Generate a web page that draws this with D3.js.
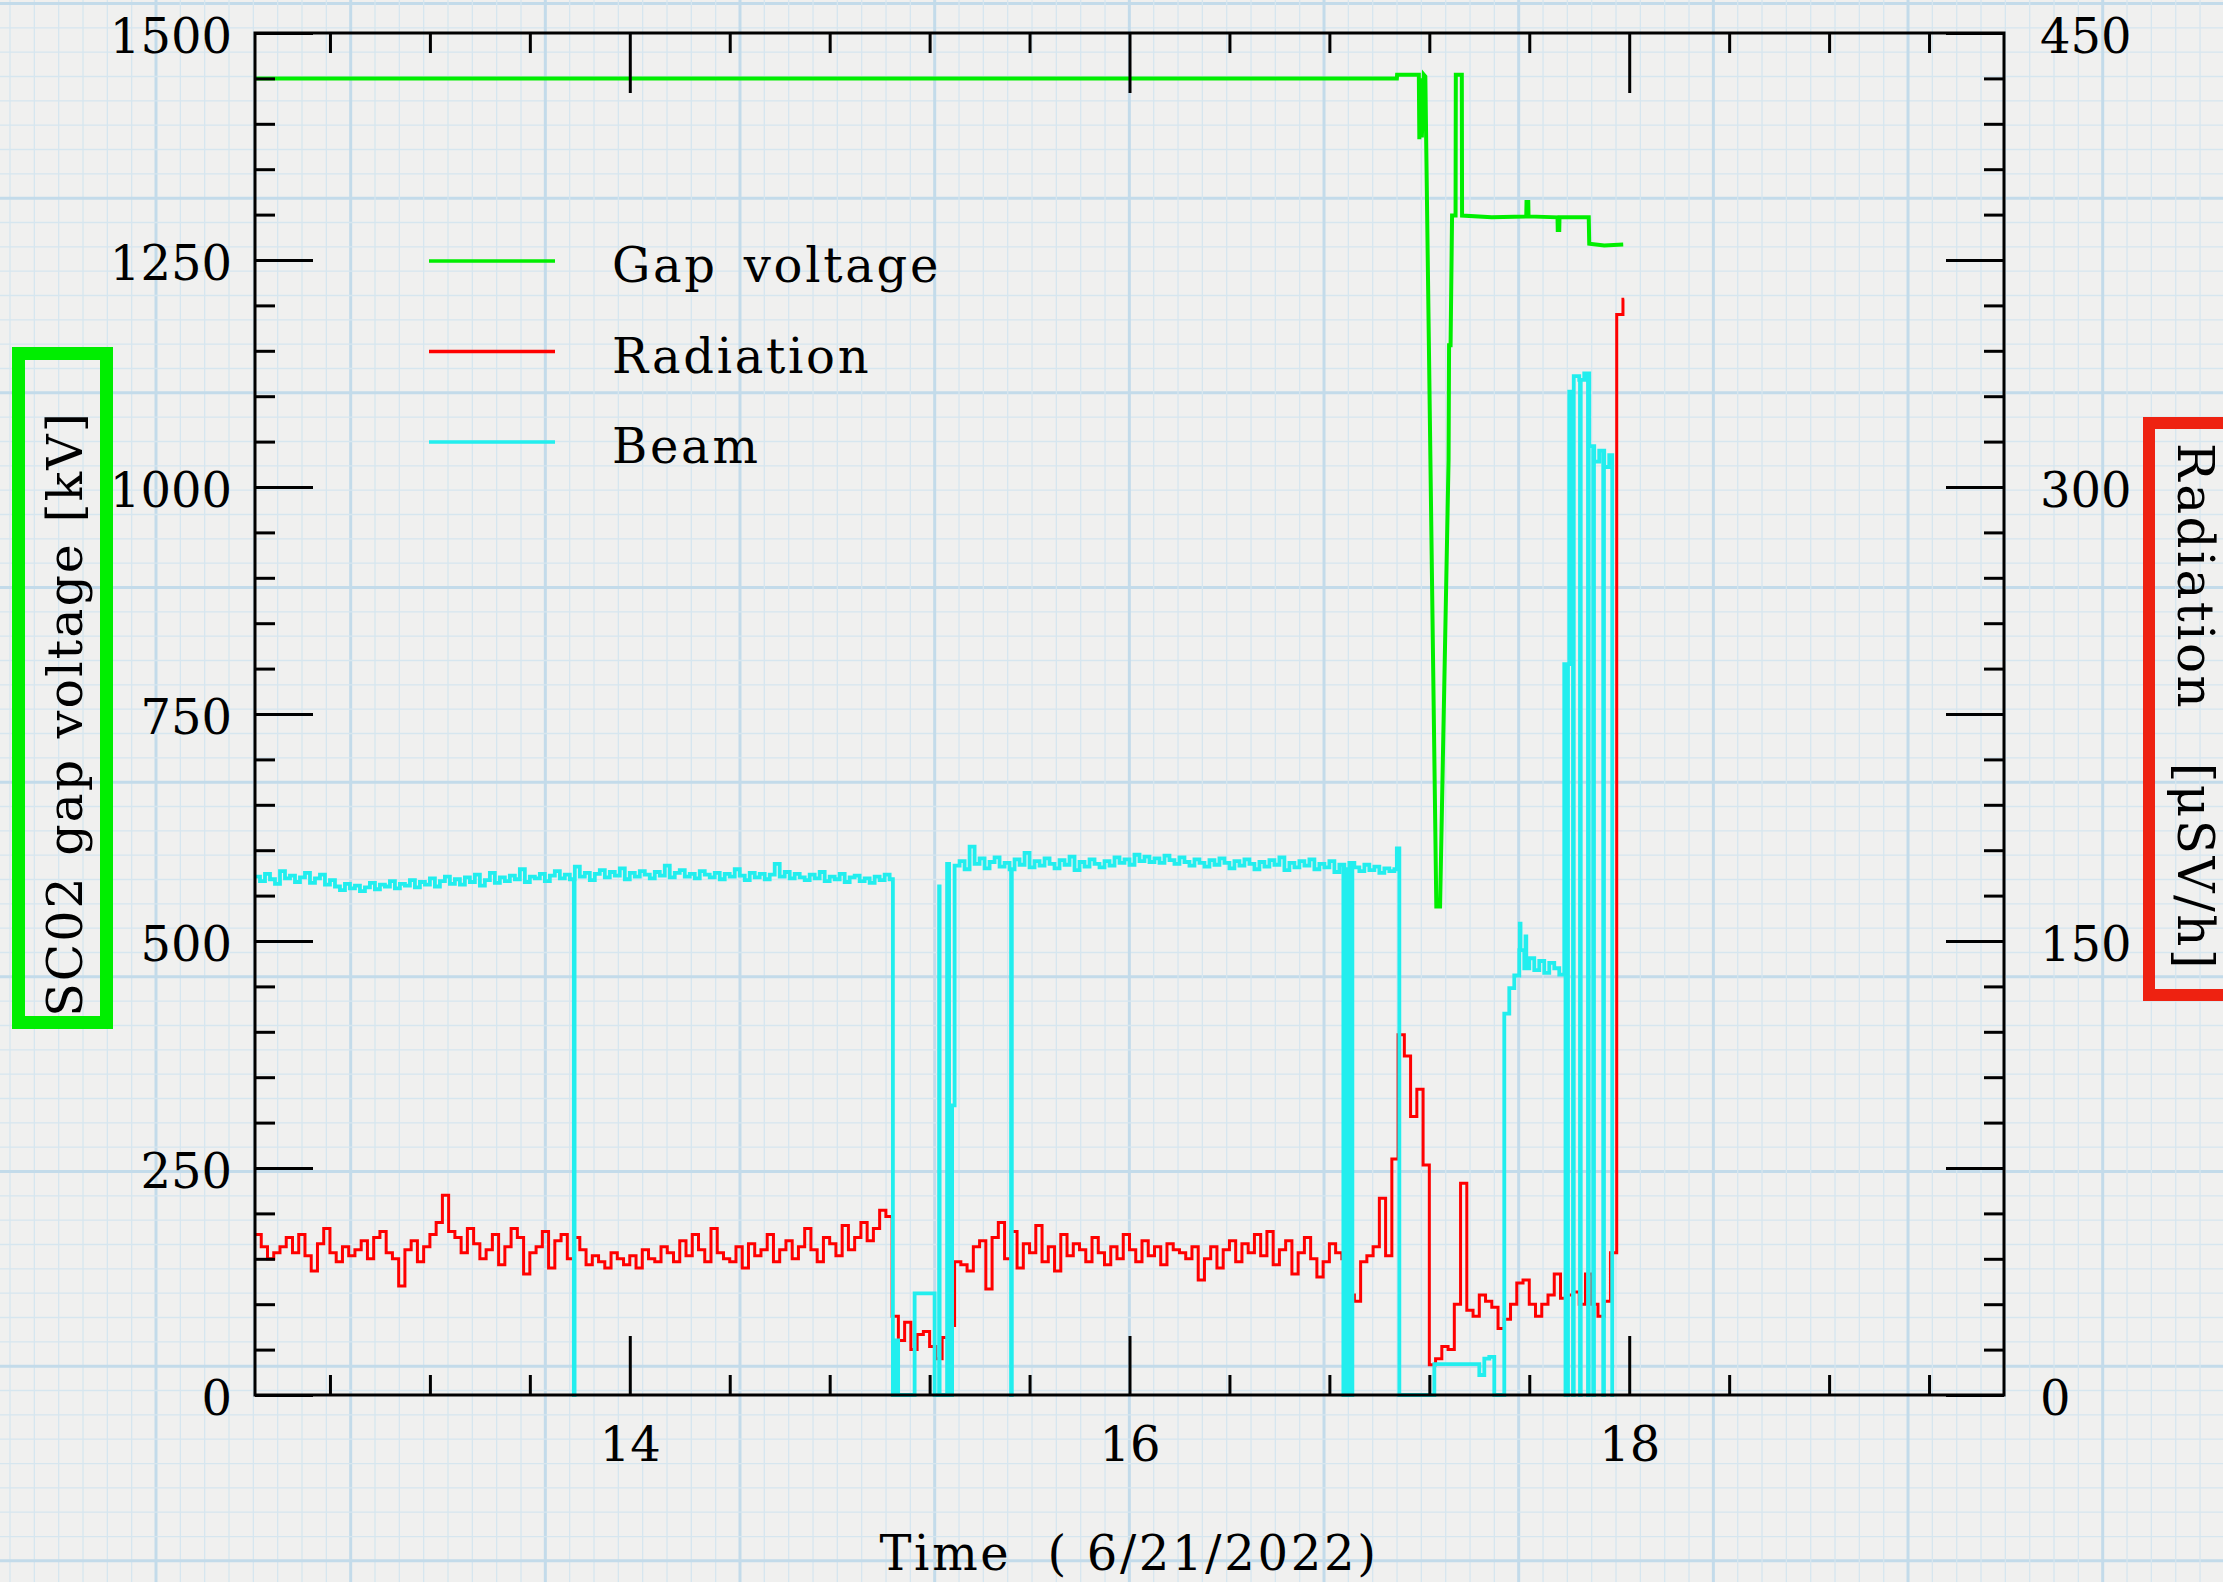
<!DOCTYPE html>
<html>
<head>
<meta charset="utf-8">
<script src="https://cdn.jsdelivr.net/npm/d3@7"></script>
<style>
  body { margin: 0; background: #f0f0ef; }
  svg { display: block; }
  text { font-family: "DejaVu Serif", serif; fill: #000; }
</style>
</head>
<body>
<svg id="chart"></svg>
<script>
// ---- data ----
const xMajorTicks = [14, 16, 18];
const xMinorTicks = [12.8, 13.2, 13.6, 14.4, 14.8, 15.2, 15.6, 16.4, 16.8, 17.2, 17.6, 18.4, 18.8, 19.2];
const leftMajorTicks = [0, 250, 500, 750, 1000, 1250, 1500];
const rightLongTicks = [0, 75, 150, 225, 300, 375, 450];
const rightLabels = [0, 150, 300, 450];

const seriesNames = ["Gap voltage", "Radiation", "Beam"];
const seriesColors = ["#00ee00", "#ff0000", "#22eeee"];

// gap voltage [kV], breakpoints (hour, kV)
const gapTime = [12.5, 17.07, 17.071, 17.158, 17.16, 17.165, 17.17, 17.178, 17.184, 17.228, 17.243, 17.277, 17.279, 17.285, 17.291, 17.305, 17.306, 17.33, 17.331, 17.45, 17.588, 17.589, 17.596, 17.597, 17.713, 17.714, 17.72, 17.721, 17.838, 17.84, 17.9, 17.976];
const gapValue = [1450, 1450, 1454, 1454, 1383, 1450, 1385, 1454, 1452, 538, 538, 1030, 1156, 1156, 1299, 1299, 1454, 1454, 1299, 1297, 1298, 1314, 1314, 1298, 1297, 1283, 1283, 1297, 1297, 1268, 1266, 1267];

// radiation [uSv/h], one reading every 0.025 h from 12.5
const radStart = 12.5, radStep = 0.025, radEnd = 17.98;
const radValues = [
  53, 49, 45, 47, 49, 52, 47, 53, 46, 41,
  50, 55, 47, 44, 49, 46, 48, 51, 45, 52,
  54, 47, 45, 36, 48, 51, 44, 49, 53, 57,
  66, 54, 52, 47, 55, 50, 45, 48, 53, 43,
  49, 55, 52, 40, 47, 49, 54, 42, 51, 53,
  45, 52, 48, 43, 46, 44, 42, 47, 45, 43,
  46, 42, 48, 45, 44, 49, 47, 44, 51, 46,
  53, 48, 44, 55, 47, 45, 44, 49, 42, 50,
  46, 48, 53, 44, 48, 51, 45, 49, 55, 48,
  44, 52, 50, 46, 56, 48, 52, 57, 51, 55,
  61, 59, 26, 18, 24, 15, 20, 21, 16, 12,
  19, 23, 44, 43, 41, 49, 51, 35, 52, 57,
  45, 54, 42, 50, 47, 56, 44, 49, 41, 53,
  46, 50, 48, 44, 52, 47, 43, 49, 45, 53,
  48, 44, 51, 46, 49, 43, 50, 48, 47, 45,
  49, 38, 45, 49, 42, 48, 51, 44, 50, 47,
  53, 46, 54, 43, 48, 51, 40, 47, 52, 45,
  39, 44, 50, 47, 45, 33, 31, 44, 46, 49,
  65, 46, 78, 119, 112, 92, 101, 76, 10, 12,
  16, 15, 30, 70, 28, 26, 33, 31, 29, 22,
  25, 30, 37, 38, 30, 26, 30, 33, 40, 32,
  33, 34, 30, 40, 30, 26, 31, 47, 357, 362
];

// beam (on the kV scale), one reading every 0.02 h from 12.5
const beamStart = 12.5, beamStep = 0.02;
const beamValues = [
  571, 566, 574, 568, 563, 577, 569, 572, 565, 570,
  575, 564, 569, 573, 562, 567, 560, 556, 563, 558,
  561, 555, 559, 564, 557, 562, 560, 566, 558, 563,
  561, 567, 559, 565, 562, 569, 560, 566, 571, 563,
  568, 562, 570, 565, 573, 561, 567, 575, 564, 570,
  566, 572, 568, 579, 565, 571, 569, 574, 566, 572,
  577, 569, 573, 568, 582, 571, 575, 567, 574, 578,
  570, 576, 572, 580, 568, 575, 571, 577, 573, 569,
  576, 572, 583, 570, 575, 578, 571, 574, 569, 577,
  573, 570, 575, 568, 574, 571, 579, 572, 567, 575,
  570, 574, 568, 573, 585, 571, 576, 569, 574, 570,
  567, 573, 569, 576, 566, 571, 568, 574, 565, 570,
  572, 566, 569, 564, 571, 567, 573, 568, 0, 0,
  0, 0, 112, 112, 112, 112, 0, 0, 0, 0,
  583, 588, 579, 604, 585, 591, 580, 587, 592, 582,
  586, 579, 590, 584, 597, 581, 588, 583, 591, 585,
  580, 589, 584, 593, 578, 587, 582, 590, 585, 581,
  588, 583, 592, 586, 590, 584, 595, 588, 593, 587,
  591, 586, 594, 589, 585, 592, 587, 583, 590, 586,
  582, 589, 584, 591, 586, 580, 588, 583, 590, 585,
  579, 587, 582, 589, 584, 592, 578, 586, 581, 588,
  583, 590, 579, 585, 581, 588, 576, 584, 579, 586,
  581, 577, 584, 578, 582, 575, 580, 577, 579, 0,
  0, 0, 0, 0, 0, 0, 34, 34, 34, 34,
  34, 34, 34, 34, 34, 22, 40, 42, 0, 0,
  420, 448, 462, 490, 470, 481, 468, 478, 465, 476,
  470, 463, 805, 1105, 1122, 1118, 1125, 1045, 1028, 1040,
  1022, 1035, 0
];
// short beam trips and spikes between readings (hour, value)
const beamTripTime = [13.776, 13.779, 15.053, 15.063, 15.074, 15.238, 15.25, 15.27, 15.278, 15.29, 15.526, 15.529,
  16.856, 16.859, 16.864, 16.867, 16.872, 16.875, 16.881, 16.884, 16.889, 16.892, 17.07, 17.562, 17.565, 17.585, 17.588,
  17.745, 17.748, 17.752, 17.755, 17.775, 17.778, 17.803, 17.806, 17.835, 17.838, 17.856, 17.859, 17.896, 17.899, 17.932];
const beamTripValue = [0, 568, 0, 60, 0, 560, 0, 585, 0, 319, 0, 579,
  0, 584, 0, 579, 0, 579, 0, 586, 0, 586, 602, 519, 490, 505, 470,
  0, 805, 0, 805, 0, 1122, 0, 1118, 0, 1125, 0, 1045, 0, 1040, 0];

// ---- layout ----
const width = 2223, height = 1582;
const plot = { left: 255, right: 2004, top: 33, bottom: 1395 };

const svg = d3.select("#chart")
  .attr("width", width)
  .attr("height", height);

// graph paper background
svg.append("rect").attr("width", width).attr("height", height).attr("fill", "#f0f0ef");
const cell = 194.67 / 8;
const paper = svg.append("g");
d3.range(-8, 100).forEach(k => {
  const gx = 156 + k * cell;
  if (gx > -2 && gx < width + 2) {
    paper.append("line").attr("x1", gx).attr("x2", gx).attr("y1", 0).attr("y2", height)
      .attr("stroke", k % 8 === 0 ? "#c3dbea" : "#d6e6ef").attr("stroke-width", k % 8 === 0 ? 3 : 1.3);
  }
  const gy = 3.5 + k * cell;
  if (gy > -2 && gy < height + 2) {
    paper.append("line").attr("x1", 0).attr("x2", width).attr("y1", gy).attr("y2", gy)
      .attr("stroke", k % 8 === 0 ? "#c3dbea" : "#d6e6ef").attr("stroke-width", k % 8 === 0 ? 3 : 1.3);
  }
});

const x = d3.scaleLinear().domain([12.5, 19.5]).range([plot.left, plot.right]);
const yLeft = d3.scaleLinear().domain([0, 1500]).range([plot.bottom, plot.top]);
const yRight = d3.scaleLinear().domain([0, 450]).range([plot.bottom, plot.top]);

// ---- series ----
const radPoints = radValues.map((v, i) => [radStart + i * radStep, v]);
radPoints.push([radEnd, radValues[radValues.length - 1]]);

const beamPoints = beamValues.map((v, i) => [beamStart + i * beamStep, v])
  .concat(beamTripTime.map((t, i) => [t, beamTripValue[i]]))
  .sort((a, b) => a[0] - b[0]);

const gapPoints = gapTime.map((t, i) => [t, gapValue[i]]);

const stepLeft = d3.line().x(d => x(d[0])).y(d => yLeft(d[1])).curve(d3.curveStepAfter);
const stepRight = d3.line().x(d => x(d[0])).y(d => yRight(d[1])).curve(d3.curveStepAfter);
const linLeft = d3.line().x(d => x(d[0])).y(d => yLeft(d[1]));

svg.append("path").datum(radPoints).attr("d", stepRight)
  .attr("fill", "none").attr("stroke", seriesColors[1]).attr("stroke-width", 3).attr("stroke-linejoin", "miter");
svg.append("path").datum(beamPoints).attr("d", stepLeft)
  .attr("fill", "none").attr("stroke", seriesColors[2]).attr("stroke-width", 3.8);
svg.append("path").datum(gapPoints).attr("d", linLeft)
  .attr("fill", "none").attr("stroke", seriesColors[0]).attr("stroke-width", 4);

// ---- axes (ticks point inward) ----
function styleAxis(g) {
  g.select(".domain").remove();
  g.selectAll(".tick line").attr("stroke", "#000").attr("stroke-width", 3);
  g.selectAll("text").attr("font-size", 48).attr("font-family", "DejaVu Serif").attr("fill", "#000");
}

svg.append("g").attr("transform", `translate(${plot.left},0)`)
  .call(d3.axisLeft(yLeft).tickValues(leftMajorTicks).tickSize(-58).tickPadding(23).tickFormat(d3.format("d")))
  .call(styleAxis)
  .selectAll("text").attr("dy", "0.4em");
svg.append("g").attr("transform", `translate(${plot.left},0)`)
  .call(d3.axisLeft(yLeft).tickValues(d3.range(50, 1500, 50).filter(v => v % 250)).tickSize(-20).tickFormat(""))
  .call(styleAxis);

svg.append("g").attr("transform", `translate(${plot.right},0)`)
  .call(d3.axisRight(yRight).tickValues(rightLongTicks).tickSize(-58).tickPadding(36)
    .tickFormat(d => rightLabels.includes(d) ? d : ""))
  .call(styleAxis)
  .selectAll("text").attr("dy", "0.4em");
svg.append("g").attr("transform", `translate(${plot.right},0)`)
  .call(d3.axisRight(yRight).tickValues(d3.range(15, 450, 15).filter(v => v % 75)).tickSize(-20).tickFormat(""))
  .call(styleAxis);

svg.append("g").attr("transform", `translate(0,${plot.bottom})`)
  .call(d3.axisBottom(x).tickValues(xMajorTicks).tickSize(-59).tickPadding(32).tickFormat(d3.format("d")))
  .call(styleAxis);
svg.append("g").attr("transform", `translate(0,${plot.bottom})`)
  .call(d3.axisBottom(x).tickValues(xMinorTicks).tickSize(-20).tickFormat(""))
  .call(styleAxis);
svg.append("g").attr("transform", `translate(0,${plot.top})`)
  .call(d3.axisTop(x).tickValues(xMajorTicks).tickSize(-60).tickFormat(""))
  .call(styleAxis);
svg.append("g").attr("transform", `translate(0,${plot.top})`)
  .call(d3.axisTop(x).tickValues(xMinorTicks).tickSize(-20).tickFormat(""))
  .call(styleAxis);

svg.append("rect")
  .attr("x", plot.left).attr("y", plot.top)
  .attr("width", plot.right - plot.left).attr("height", plot.bottom - plot.top)
  .attr("fill", "none").attr("stroke", "#000").attr("stroke-width", 3);

// ---- legend ----
const legend = svg.append("g");
seriesNames.forEach((name, i) => {
  const ly = 261 + i * 90.5;
  legend.append("line").attr("x1", 429).attr("x2", 555).attr("y1", ly).attr("y2", ly)
    .attr("stroke", seriesColors[i]).attr("stroke-width", 3.5);
  legend.append("text").attr("x", 612).attr("y", ly + 21)
    .attr("font-size", 48).style("letter-spacing", "2.7px").style("word-spacing", "8px")
    .text(name);
});

// ---- axis titles ----
svg.append("text")
  .attr("x", 1129).attr("y", 1570).attr("text-anchor", "middle")
  .attr("font-size", 48).style("letter-spacing", "2.7px").style("white-space", "pre")
  .text("Time  ( 6/21/2022)");

svg.append("rect").attr("x", 18.5).attr("y", 353.5).attr("width", 88).attr("height", 669)
  .attr("fill", "none").attr("stroke", "#00ee00").attr("stroke-width", 13);
svg.append("text")
  .attr("transform", "translate(82,714) rotate(-90)")
  .attr("text-anchor", "middle").attr("font-size", 49)
  .style("letter-spacing", "2px").style("word-spacing", "2px")
  .text("SC02 gap voltage [kV]");

svg.append("rect").attr("x", 2149).attr("y", 423).attr("width", 120).attr("height", 572)
  .attr("fill", "none").attr("stroke", "#ee2211").attr("stroke-width", 12);
svg.append("text")
  .attr("transform", "translate(2178,707) rotate(90)")
  .attr("text-anchor", "middle").attr("font-size", 50)
  .style("letter-spacing", "2.5px").style("word-spacing", "34px")
  .text("Radiation [μSV/h]");
</script>
</body>
</html>
